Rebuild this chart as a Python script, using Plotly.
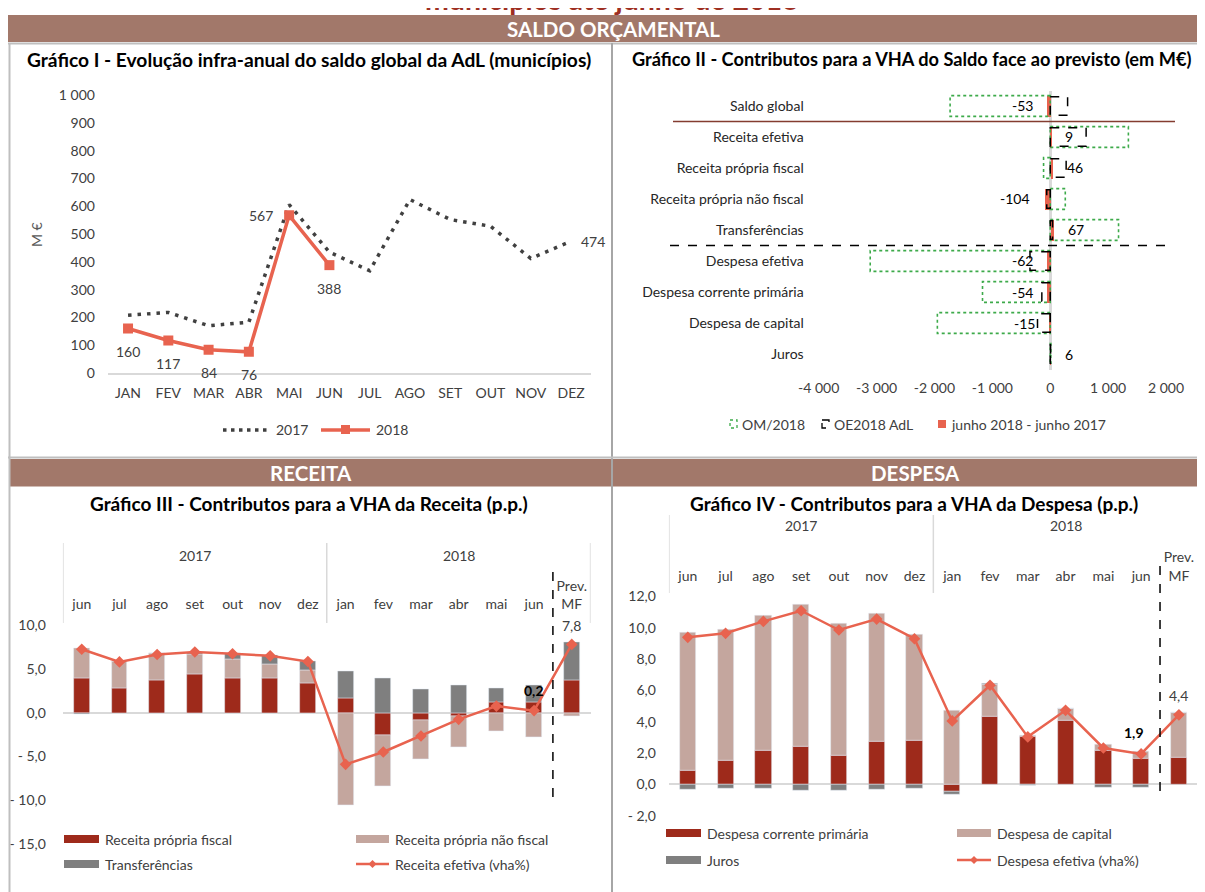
import plotly.graph_objects as go

W, H = 1205, 892
OFF = 8  # the page places the figure 8px from the top-left corner
FONT = "Lato"
def PX(x): return (x - OFF) / W
def PY(y): return 1 - (y - OFF) / H

# ---------------- data: Gráfico I ----------------
months_upper = ["JAN", "FEV", "MAR", "ABR", "MAI", "JUN", "JUL", "AGO", "SET", "OUT", "NOV", "DEZ"]
saldo_2017 = [208, 218, 170, 183, 606, 435, 368, 624, 552, 528, 412, 474]
saldo_2018 = [160, 117, 84, 76, 567, 388]
y1_tickvals = [0, 100, 200, 300, 400, 500, 600, 700, 800, 900, 1000]
y1_ticktext = ["0", "100", "200", "300", "400", "500", "600", "700", "800", "900", "1 000"]

# ---------------- data: Gráfico II ----------------
contrib_cats = ["Saldo global", "Receita efetiva", "Receita própria fiscal",
                "Receita própria não fiscal", "Transferências", "Despesa efetiva",
                "Despesa corrente primária", "Despesa de capital", "Juros"]
om_2018 = [-1730, 1350, -115, 260, 1180, -3110, -1170, -1950, 10]
oe_2018 = [300, 620, 275, -60, 40, -350, -145, -220, 5]
var_jun = [-53, 9, 46, -104, 67, -62, -54, -15, 6]
x2_tickvals = [-4000, -3000, -2000, -1000, 0, 1000, 2000]
x2_ticktext = ["-4 000", "-3 000", "-2 000", "-1 000", "0", "1 000", "2 000"]

# ---------------- data: Gráficos III / IV ----------------
periods = ["jun", "jul", "ago", "set", "out", "nov", "dez",
           "jan", "fev", "mar", "abr", "mai", "jun", "Prev.<br>MF"]
year_groups = ["2017", "2018"]
rec_fiscal = [4.0, 2.85, 3.75, 4.35, 4.0, 4.0, 3.4, 1.7, -2.55, -0.84, -0.34, 1.18, 1.22, 3.73]
rec_nao_fiscal = [3.4, 3.0, 3.1, 2.35, 2.1, 1.6, 1.45, -10.6, -5.8, -4.48, -3.6, -2.09, -2.85, -0.38]
rec_transf = [-0.2, 0.0, 0.0, 0.2, 0.65, 0.95, 1.0, 3.05, 3.92, 2.66, 3.12, 1.63, 1.9, 4.38]
rec_efetiva = [7.25, 5.8, 6.65, 6.94, 6.74, 6.5, 5.85, -5.9, -4.49, -2.66, -0.76, 0.76, 0.24, 7.8]
y3_tickvals = [-15, -10, -5, 0, 5, 10]
y3_ticktext = ["- 15,0", "- 10,0", "- 5,0", "0,0", "5,0", "10,0"]

desp_corrente = [0.9, 1.49, 2.17, 2.43, 1.81, 2.71, 2.77, -0.45, 4.31, 3.07, 4.05, 2.17, 1.68, 1.73]
desp_capital = [8.8, 8.4, 8.6, 9.07, 8.48, 8.22, 6.83, 4.69, 2.05, 0.06, 0.8, 0.37, 0.43, 2.87]
desp_juros = [-0.32, -0.3, -0.3, -0.38, -0.38, -0.36, -0.28, -0.19, 0.05, -0.1, 0.0, -0.21, -0.2, 0.0]
desp_efetiva = [9.39, 9.65, 10.41, 11.09, 9.86, 10.56, 9.3, 4.05, 6.33, 3.03, 4.73, 2.32, 1.94, 4.44]
y4_tickvals = [-2, 0, 2, 4, 6, 8, 10, 12]
y4_ticktext = ["- 2,0", "0,0", "2,0", "4,0", "6,0", "8,0", "10,0", "12,0"]

# ---------------- colours ----------------
BAND = "#A2786A"
CORAL = "#E8634F"
DARKRED = "#9E2A1B"
LIGHT = "#C4A69E"
GREY = "#7F7F7F"
TXT = "#404040"
GREEN = "#3DAA4A"

fig = go.Figure()
idx = list(range(len(periods)))
cidx = list(range(len(contrib_cats)))

# ---- Chart I traces
fig.add_trace(go.Scatter(x=months_upper, y=saldo_2017, mode="lines", xaxis="x", yaxis="y",
                         line=dict(color="#404040", width=3.5, dash="3.5px,6px"), showlegend=False))
fig.add_trace(go.Scatter(x=months_upper[:len(saldo_2018)], y=saldo_2018, mode="lines+markers",
                         xaxis="x", yaxis="y", line=dict(color=CORAL, width=3.5),
                         marker=dict(symbol="square", size=10, color=CORAL), showlegend=False))

# ---- Chart II traces
fig.add_trace(go.Bar(y=cidx, x=var_jun, orientation="h", xaxis="x2", yaxis="y2", width=0.67,
                     marker=dict(color=CORAL, line=dict(width=0)), showlegend=False))

# ---- Chart III traces
fig.add_trace(go.Bar(x=idx, y=rec_fiscal, xaxis="x3", yaxis="y3", width=0.42, marker_color=DARKRED, showlegend=False))
fig.add_trace(go.Bar(x=idx, y=rec_nao_fiscal, xaxis="x3", yaxis="y3", width=0.42, marker_color=LIGHT, showlegend=False))
fig.add_trace(go.Bar(x=idx, y=rec_transf, xaxis="x3", yaxis="y3", width=0.42, marker_color=GREY, showlegend=False))
fig.add_trace(go.Scatter(x=idx, y=rec_efetiva, xaxis="x3", yaxis="y3", mode="lines+markers",
                         line=dict(color=CORAL, width=2.5), marker=dict(symbol="diamond", size=9, color=CORAL),
                         showlegend=False))

# ---- Chart IV traces
fig.add_trace(go.Bar(x=idx, y=desp_corrente, xaxis="x4", yaxis="y4", width=0.43, marker_color=DARKRED, showlegend=False))
fig.add_trace(go.Bar(x=idx, y=desp_capital, xaxis="x4", yaxis="y4", width=0.43, marker_color=LIGHT, showlegend=False))
fig.add_trace(go.Bar(x=idx, y=desp_juros, xaxis="x4", yaxis="y4", width=0.43, marker_color=GREY, showlegend=False))
fig.add_trace(go.Scatter(x=idx, y=desp_efetiva, xaxis="x4", yaxis="y4", mode="lines+markers",
                         line=dict(color=CORAL, width=2.5), marker=dict(symbol="diamond", size=9, color=CORAL),
                         showlegend=False))

tickfont = dict(family=FONT, size=14, color=TXT)
shapes = []
ann = []

def hline(x0, x1, y, color, width=1.5, dash="solid"):
    shapes.append(dict(type="line", xref="paper", yref="paper", x0=PX(x0), x1=PX(x1), y0=PY(y), y1=PY(y),
                       line=dict(color=color, width=width, dash=dash)))

def vline(x, y0, y1, color, width=1.5, dash="solid"):
    shapes.append(dict(type="line", xref="paper", yref="paper", x0=PX(x), x1=PX(x), y0=PY(y0), y1=PY(y1),
                       line=dict(color=color, width=width, dash=dash)))

def rect(x0, y0, x1, y1, fill, line_color=None, dash="solid", lw=0):
    shapes.append(dict(type="rect", xref="paper", yref="paper", x0=PX(x0), x1=PX(x1), y0=PY(y0), y1=PY(y1),
                       fillcolor=fill, line=dict(color=line_color or fill, width=lw, dash=dash), layer="below"))

def text(x, y, s, size=14, color=TXT, bold=False, xanchor="center", angle=0):
    ann.append(dict(xref="paper", yref="paper", x=PX(x), y=PY(y), text=("<b>%s</b>" % s) if bold else s,
                    showarrow=False, xanchor=xanchor, yanchor="middle", textangle=angle,
                    font=dict(family=FONT, size=size, color=color)))

# ---- page furniture
text(612, -1, "municípios até junho de 2018", size=28.5, color="#9E2F22", bold=True)
rect(8, 15, 1213, 42, BAND)
text(613, 29, "SALDO ORÇAMENTAL", size=20.5, color="white", bold=True)
hline(8, 1213, 43.5, "#BFBFBF", 2)
vline(9.5, 43, 900, "#BFBFBF", 2)
vline(612, 43, 900, "#A6A6A6", 2)
hline(8, 1213, 457.5, "#BFBFBF", 2)
rect(9, 459, 611, 486.5, BAND)
rect(613, 459, 1213, 486.5, BAND)
text(311, 473, "RECEITA", size=20.5, color="white", bold=True)
text(915, 473, "DESPESA", size=20.5, color="white", bold=True)

# titles
text(309, 59, "Gráfico I - Evolução infra-anual do saldo global da AdL (municípios)", size=19.2, color="black", bold=True)
text(911, 59, "Gráfico II - Contributos para a VHA do Saldo face ao previsto (em M€)", size=18.2, color="black", bold=True)
text(309, 503, "Gráfico III - Contributos para a VHA da Receita (p.p.)", size=19, color="black", bold=True)
text(914, 503, "Gráfico IV - Contributos para a VHA da Despesa (p.p.)", size=19, color="black", bold=True)

# ---- Chart I extras
text(36, 235, "M €", size=14, color="#595959", angle=-90)
for i, v in enumerate(saldo_2018):
    if i == 4:
        ann.append(dict(xref="x", yref="y", x=months_upper[i], y=v, text=str(v), showarrow=False,
                        xshift=-28, font=dict(family=FONT, size=14, color=TXT)))
    else:
        ann.append(dict(xref="x", yref="y", x=months_upper[i], y=v, text=str(v), showarrow=False,
                        yshift=-23, font=dict(family=FONT, size=14, color=TXT)))
ann.append(dict(xref="x", yref="y", x=months_upper[-1], y=saldo_2017[-1], text=str(saldo_2017[-1]),
                showarrow=False, xshift=22, font=dict(family=FONT, size=14, color=TXT)))
# legend I
shapes.append(dict(type="line", xref="paper", yref="paper", x0=PX(223), x1=PX(268), y0=PY(430), y1=PY(430),
                   line=dict(color="#404040", width=3.5, dash="3.5px,4.5px")))
text(274, 430, "2017", size=14, xanchor="left")
hline(321, 370, 430, CORAL, 3.5)
rect(341, 425, 350, 434, CORAL)
text(374, 430, "2018", size=14, xanchor="left")

# ---- Chart II extras: planned boxes drawn on data axes
for i in cidx:
    shapes.append(dict(type="rect", xref="x2", yref="y2", x0=0, x1=om_2018[i], y0=i - 0.335, y1=i + 0.335,
                       line=dict(color=GREEN, width=1.6, dash="dot")))
    shapes.append(dict(type="rect", xref="x2", yref="y2", x0=0, x1=oe_2018[i], y0=i - 0.3, y1=i + 0.3,
                       line=dict(color="black", width=1.5, dash="dash")))
    v = var_jun[i]
    ann.append(dict(xref="x2", yref="y2", x=v, y=i, text=str(v), showarrow=False,
                    xanchor="right" if v < 0 else "left", xshift=-12 if v < 0 else 12,
                    font=dict(family=FONT, size=14, color="black")))
shapes.append(dict(type="line", xref="paper", yref="y2", x0=PX(673), x1=PX(1175), y0=0.5, y1=0.5,
                   line=dict(color="#843C30", width=1.5)))
shapes.append(dict(type="line", xref="paper", yref="y2", x0=PX(670), x1=PX(1173), y0=4.5, y1=4.5,
                   line=dict(color="black", width=1.5, dash="dash")))
# legend II
rect(730, 420, 737, 428, "rgba(0,0,0,0)", GREEN, "dot", 1.3)
text(740, 424, "OM/2018", size=14, xanchor="left")
rect(822, 420, 829, 428, "rgba(0,0,0,0)", "black", "dash", 1.3)
text(832, 424, "OE2018 AdL", size=14, xanchor="left")
rect(938, 420, 946, 428, CORAL)
text(949, 424, "junho 2018 - junho 2017", size=14, xanchor="left")

# ---- Chart III / IV extras
def multi_level(xref, yyear, sep_top, sep_bot, x_left, x_mid, x_right, dash_top, dash_bot, xdash):
    ann.append(dict(xref=xref, yref="paper", x=3, y=PY(yyear), text=year_groups[0], showarrow=False,
                    font=dict(family=FONT, size=14, color=TXT)))
    ann.append(dict(xref=xref, yref="paper", x=10, y=PY(yyear), text=year_groups[1], showarrow=False,
                    font=dict(family=FONT, size=14, color=TXT)))
    for xx in (x_left, x_mid, x_right):
        shapes.append(dict(type="line", xref=xref, yref="paper", x0=xx, x1=xx, y0=PY(sep_top), y1=PY(sep_bot),
                           line=dict(color="#D9D9D9", width=1.5)))
    shapes.append(dict(type="line", xref=xref, yref="paper", x0=xdash, x1=xdash, y0=PY(dash_top), y1=PY(dash_bot),
                       line=dict(color="black", width=1.5, dash="dash")))

multi_level("x3", 555, 543, 623, -0.5, 6.5, 13.5, 572, 803, 12.5)
multi_level("x4", 525, 515, 593, -0.5, 6.5, 13.5, 566, 797, 12.5)

def val_label(xref, yref, i, v, bold, yshift, xshift=0):
    s = ("%.1f" % v).replace(".", ",")
    ann.append(dict(xref=xref, yref=yref, x=i, y=v, text=("<b>%s</b>" % s) if bold else s, showarrow=False,
                    yshift=yshift, xshift=xshift, font=dict(family=FONT, size=14, color="black" if bold else TXT)))

val_label("x3", "y3", 12, rec_efetiva[12], True, 20)
val_label("x3", "y3", 13, rec_efetiva[13], False, 19)
val_label("x4", "y4", 12, desp_efetiva[12], True, 21, -7)
val_label("x4", "y4", 13, desp_efetiva[13], False, 19)

# legend III
rect(64, 835, 99, 843, DARKRED); text(103, 839, "Receita própria fiscal", size=14, xanchor="left")
rect(356, 835, 389, 843, LIGHT); text(393, 839, "Receita própria não fiscal", size=14, xanchor="left")
rect(64, 860, 99, 868, GREY); text(103, 864, "Transferências", size=14, xanchor="left")
hline(356, 389, 864, CORAL, 2.5)
shapes.append(dict(type="path", xref="paper", yref="paper",
                   path="M %f,%f L %f,%f L %f,%f L %f,%f Z" % (PX(372.5), PY(860), PX(376.5), PY(864),
                                                               PX(372.5), PY(868), PX(368.5), PY(864)),
                   fillcolor=CORAL, line=dict(width=0)))
text(393, 864, "Receita efetiva (vha%)", size=14, xanchor="left")

# legend IV
rect(666, 829, 701, 837, DARKRED); text(705, 833, "Despesa corrente primária", size=14, xanchor="left")
rect(957, 829, 991, 837, LIGHT); text(995, 833, "Despesa de capital", size=14, xanchor="left")
rect(666, 856, 701, 864, GREY); text(705, 860, "Juros", size=14, xanchor="left")
hline(957, 991, 860, CORAL, 2.5)
shapes.append(dict(type="path", xref="paper", yref="paper",
                   path="M %f,%f L %f,%f L %f,%f L %f,%f Z" % (PX(974), PY(856), PX(978), PY(860),
                                                               PX(974), PY(864), PX(970), PY(860)),
                   fillcolor=CORAL, line=dict(width=0)))
text(995, 860, "Despesa efetiva (vha%)", size=14, xanchor="left")

common = dict(automargin=False, showgrid=False, showline=False, ticks="")
fig.update_layout(
    width=W, height=H, autosize=False,
    margin=dict(l=0, r=0, t=0, b=0, pad=0, autoexpand=False),
    paper_bgcolor="white", plot_bgcolor="rgba(0,0,0,0)",
    barmode="relative", bargap=0,
    font=dict(family=FONT, size=14, color=TXT),
    shapes=shapes, annotations=ann,
    xaxis=dict(common, domain=[PX(107.9), PX(591.2)], anchor="y", type="category", range=[-0.5, 11.5],
               zeroline=False, tickfont=tickfont, ticklabelstandoff=6),
    yaxis=dict(common, domain=[PY(373), PY(95)], anchor="x", range=[0, 1000], tickvals=y1_tickvals,
               ticktext=y1_ticktext, zeroline=False, tickfont=tickfont, ticklabelstandoff=12),
    xaxis2=dict(common, domain=[PX(818.7), PX(1166)], anchor="y2", range=[-4000, 2000], tickvals=x2_tickvals,
                ticktext=x2_ticktext, zeroline=True, zerolinecolor="#D9D9D9", zerolinewidth=2.5,
                tickfont=tickfont, ticklabelstandoff=8),
    yaxis2=dict(common, domain=[PY(369.5), PY(90.5)], anchor="x2", range=[8.5, -0.5], tickvals=cidx,
                ticktext=contrib_cats, zeroline=False,
                tickfont=dict(family=FONT, size=14, color="#262626"), ticklabelstandoff=14),
    xaxis3=dict(common, domain=[PX(62.9), PX(590.6)], anchor="y3", range=[-0.5, 13.5], side="top",
                tickvals=idx, ticktext=periods, zeroline=False, tickfont=tickfont, ticklabelstandoff=12),
    yaxis3=dict(common, domain=[PY(844), PY(625.2)], anchor="x3", range=[-15, 10], tickvals=y3_tickvals,
                ticktext=y3_ticktext, zeroline=True, zerolinecolor="#D9D9D9", zerolinewidth=1.5,
                tickfont=tickfont, ticklabelstandoff=16),
    xaxis4=dict(common, domain=[PX(668.9), PX(1197.8)], anchor="y4", range=[-0.5, 13.5], side="top",
                tickvals=idx, ticktext=periods, zeroline=False, tickfont=tickfont, ticklabelstandoff=12),
    yaxis4=dict(common, domain=[PY(815.6), PY(596.5)], anchor="x4", range=[-2, 12], tickvals=y4_tickvals,
                ticktext=y4_ticktext, zeroline=True, zerolinecolor="#D9D9D9", zerolinewidth=1.5,
                tickfont=tickfont, ticklabelstandoff=12),
)
fig.update_xaxes(selector=dict(anchor="y"), showline=True, linecolor="#D9D9D9", linewidth=1.5)

fig.write_html("out.html")
